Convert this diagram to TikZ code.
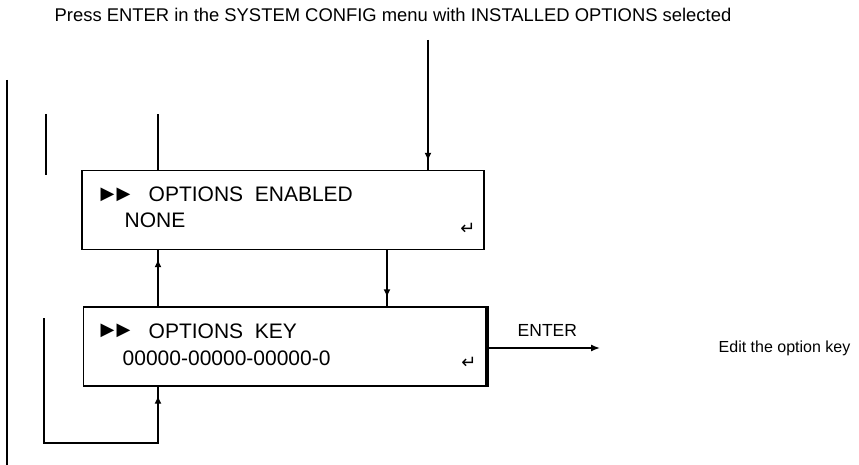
\documentclass[tikz,border=0pt]{standalone}
\usepackage{fontspec}
\setmainfont{Liberation Sans}
\newfontfamily\symfont{DejaVu Sans}
\usetikzlibrary{arrows.meta,decorations.markings}
\begin{document}
\begin{tikzpicture}[x=1pt,y=-1pt,
  line width=1.4pt,
  boxnode/.style={draw,line width=1.4pt,minimum width=402pt,minimum height=79pt,inner sep=0pt},
  boxtext/.style={anchor=west,inner sep=0pt,font=\fontsize{21}{23}\selectfont,align=left},
  tri/.style={inner sep=0pt,anchor=west,font=\symfont\fontsize{18}{20}\selectfont},
  enterglyph/.style={inner sep=0pt,font=\symfont\fontsize{18}{20}\selectfont},
  plainline/.style={line width=1.4pt},
  flowarrow/.style={line width=1.4pt,postaction={decorate},
    decoration={markings,mark=at position -9pt with {\arrow{Latex[length=8pt,width=7pt]}}}},
  endarrow/.style={line width=1.4pt,-{Latex[length=9pt,width=7pt]}},
  labeltext/.style={inner sep=0pt,font=\fontsize{17.5}{19}\selectfont}
]
\useasboundingbox (0,0) rectangle (859,465);

% top label
\node[labeltext,font=\fontsize{18.4}{20}\selectfont] (toplabel) at (393,15) {Press ENTER in the SYSTEM CONFIG menu with INSTALLED OPTIONS selected};

% boxes
\node[boxnode] (b1) at (283,210) {};
\node[boxnode] (b2) at (284.5,346.5) {};
\draw[line width=2.6pt] ([xshift=1pt]b2.north east) -- ([xshift=1pt]b2.south east);

% box texts
\node[tri] (b1tri) at (100,194.5) {▶\kern2pt▶};
\node[boxtext] (b1t1) at (148,194.5) {OPTIONS\ \ ENABLED};
\node[boxtext] (b1t2) at (124,220.5) {NONE};
\node[enterglyph] (b1e) at (468,229) {↵};
\node[tri] (b2tri) at (100,331) {▶\kern2pt▶};
\node[boxtext] (b2t1) at (148,331) {OPTIONS\ \ KEY};
\node[boxtext] (b2t2) at (122,358.5) {00000-00000-00000-0};
\node[enterglyph] (b2e) at (469,363) {↵};

% coordinates
\coordinate (topstart) at (428,40);
\coordinate (leftlineA) at (7,80);
\coordinate (leftlineB) at (7,465);
\coordinate (shortA) at (46,114);
\coordinate (shortB) at (46,175);
\coordinate (upA) at (158,114);
\coordinate (loopA) at (44,318);
\coordinate (loopB) at (44,443);
\coordinate (loopC) at (158,443);
\coordinate (enterend) at (600,348);

% connectors
\draw[flowarrow] (topstart) -- (topstart |- b1.north);
\draw[plainline] (leftlineA) -- (leftlineB);
\draw[plainline] (shortA) -- (shortB);
\draw[plainline] (upA |- b1.north) -- (upA);
\draw[flowarrow] (upA |- b2.north) -- (upA |- b1.south);
\draw[flowarrow] (387,0 |- b1.south) -- (387,0 |- b2.north);
\draw[flowarrow] (loopA) -- (loopB) -- (loopC) -- (loopC |- b2.south);
\draw[endarrow] (b2.east |- enterend) -- (enterend);

% labels
\node[labeltext,anchor=south west] (enterlabel) at (517,337) {ENTER};
\node[labeltext,anchor=west,font=\fontsize{16}{18}\selectfont] (editlabel) at (718,348) {Edit the option key};
\end{tikzpicture}
\end{document}
